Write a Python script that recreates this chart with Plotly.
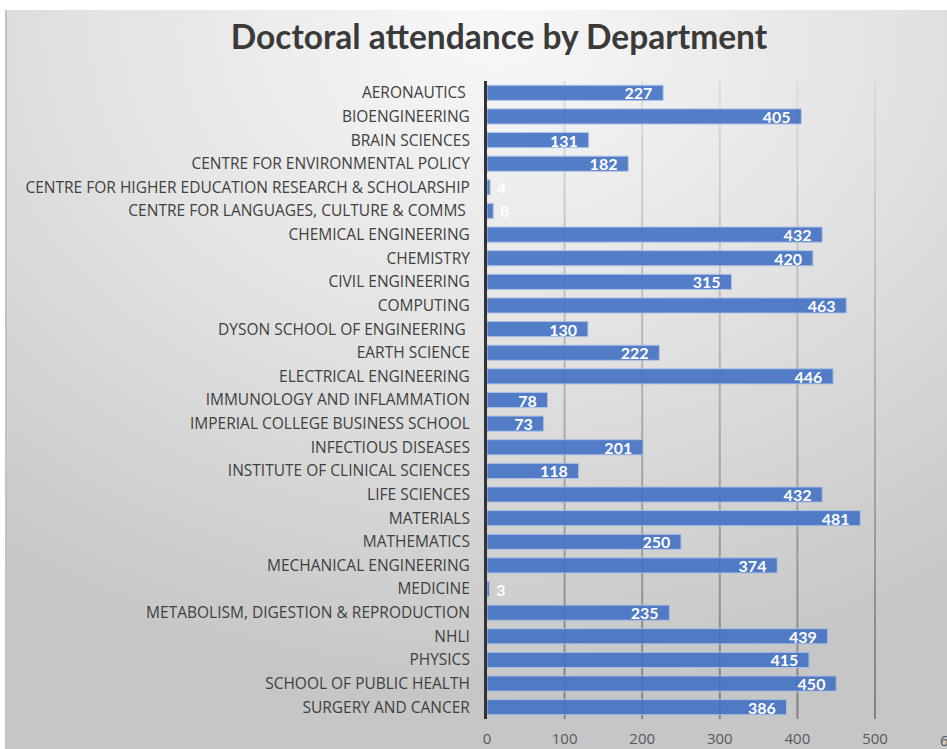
import base64
import plotly.graph_objects as go

# ---------------- data ----------------
departments = [
    "AERONAUTICS\u00a0",
    "BIOENGINEERING",
    "BRAIN SCIENCES",
    "CENTRE FOR ENVIRONMENTAL POLICY",
    "CENTRE FOR HIGHER EDUCATION RESEARCH & SCHOLARSHIP",
    "CENTRE FOR LANGUAGES, CULTURE & COMMS\u00a0",
    "CHEMICAL ENGINEERING",
    "CHEMISTRY",
    "CIVIL ENGINEERING",
    "COMPUTING",
    "DYSON SCHOOL OF ENGINEERING\u00a0",
    "EARTH SCIENCE",
    "ELECTRICAL ENGINEERING",
    "IMMUNOLOGY AND INFLAMMATION",
    "IMPERIAL COLLEGE BUSINESS SCHOOL",
    "INFECTIOUS DISEASES",
    "INSTITUTE OF CLINICAL SCIENCES",
    "LIFE SCIENCES",
    "MATERIALS",
    "MATHEMATICS",
    "MECHANICAL ENGINEERING",
    "MEDICINE",
    "METABOLISM, DIGESTION & REPRODUCTION",
    "NHLI",
    "PHYSICS",
    "SCHOOL OF PUBLIC HEALTH",
    "SURGERY AND CANCER",
]
attendance = [227, 405, 131, 182, 4, 8, 432, 420, 315, 463, 130, 222, 446, 78,
              73, 201, 118, 432, 481, 250, 374, 3, 235, 439, 415, 450, 386]
x_ticks = [0, 100, 200, 300, 400, 500, 600]
title_text = "Doctoral attendance by Department"

# ---------------- layout geometry ----------------
W, H = 947, 749
ML, MR, MT, MB = 487, 0, 81, 30
plot_w = W - ML - MR
plot_h = H - MT - MB
px_per_unit = 0.776
x_max = plot_w / px_per_unit

BAR = "#4472C4"
TXT = "#404040"
TICK_TXT = "#595959"
FONT = "Open Sans"
NB = "\u00a0"

# labels: inside-end for long bars, just outside for tiny ones
small = [v < 20 for v in attendance]
positions = ["outside" if s else "inside" for s in small]
labels = [(NB + str(v)) if s else (str(v) + NB + NB) for v, s in zip(attendance, small)]

# background gradient (SVG data URI)
bg_x0, bg_y0 = 5, 10
bw, bh = W - bg_x0, H - bg_y0
svg = (
    f'<svg xmlns="http://www.w3.org/2000/svg" width="{bw}" height="{bh}" '
    f'viewBox="0 0 {bw} {bh}" preserveAspectRatio="none"><defs>'
    '<radialGradient id="g" cx="0.52" cy="0.03" r="0.9" fx="0.52" fy="0.03">'
    '<stop offset="0" stop-color="#f8f8f8"/>'
    '<stop offset="0.45" stop-color="#e4e4e4"/>'
    '<stop offset="1" stop-color="#c6c6c6"/>'
    '</radialGradient></defs>'
    f'<rect width="{bw}" height="{bh}" fill="url(#g)"/>'
    f'<rect x="0" y="0" width="2" height="{bh}" fill="#c2c2c2"/>'
    '</svg>'
)
src = "data:image/svg+xml;base64," + base64.b64encode(svg.encode()).decode()

fig = go.Figure()
fig.add_trace(go.Bar(
    y=departments,
    x=attendance,
    orientation="h",
    marker=dict(color=BAR, opacity=0.9, line=dict(color="#a9bfe6", width=1)),
    text=labels,
    textposition=positions,
    insidetextanchor="end",
    textangle=0,
    constraintext="none",
    textfont=dict(family="Lato", size=16, color="white", weight="bold"),
    insidetextfont=dict(family="Lato", size=16, color="white", weight="bold"),
    outsidetextfont=dict(family="Lato", size=16, color="white", weight="bold"),
    cliponaxis=False,
    hoverinfo="x+y",
))

# gridlines drawn as vertical gradient segments
shapes = []
N = 24
top_c, bot_c = (0xdc, 0xdc, 0xdc), (0x80, 0x80, 0x80)
for t in x_ticks[1:]:
    if t >= x_max:
        continue
    for i in range(N):
        f = (i + 0.5) / N
        c = tuple(int(round(bot_c[k] + (top_c[k] - bot_c[k]) * f)) for k in range(3))
        shapes.append(dict(
            type="line", xref="x", yref="paper", x0=t, x1=t,
            y0=i / N, y1=(i + 1) / N, layer="below",
            line=dict(color="rgb(%d,%d,%d)" % c, width=2),
        ))

fig.update_layout(
    width=W, height=H,
    margin=dict(l=ML, r=MR, t=MT, b=MB, pad=0),
    paper_bgcolor="white",
    plot_bgcolor="rgba(0,0,0,0)",
    showlegend=False,
    bargap=0.36,
    title=dict(
        text="<b>" + title_text + "</b>",
        x=(230 + 768) / 2 / W, xanchor="center",
        y=1 - 37 / H, yanchor="middle", yref="container",
        font=dict(family="Lato", size=33.5, color="#3a3a3a"),
        automargin=False,
    ),
    images=[dict(
        source=src, xref="paper", yref="paper",
        x=(bg_x0 - ML) / plot_w, y=(H - MB - bg_y0) / plot_h,
        sizex=bw / plot_w, sizey=bh / plot_h,
        xanchor="left", yanchor="top", sizing="stretch", layer="below",
    )],
    shapes=shapes,
    xaxis=dict(
        range=[0, x_max], tickvals=x_ticks, showgrid=False, zeroline=False,
        showline=False, ticks="", ticklabelstandoff=9, automargin=False,
        tickfont=dict(family=FONT, size=15, color=TICK_TXT),
    ),
    yaxis=dict(
        autorange="reversed", showgrid=False, zeroline=False,
        showline=True, linecolor="#333333", linewidth=3, ticks="",
        ticklabelstandoff=11, automargin=False,
        tickfont=dict(family=FONT, size=15.5, color=TXT),
    ),
    annotations=[dict(
        text=str(x_ticks[-1]), xref="paper", yref="paper",
        x=x_ticks[-1] * px_per_unit / plot_w, y=-21 / plot_h,
        xanchor="center", yanchor="middle", showarrow=False,
        font=dict(family=FONT, size=15, color=TICK_TXT),
    )],
)

fig.write_html("out.html")
